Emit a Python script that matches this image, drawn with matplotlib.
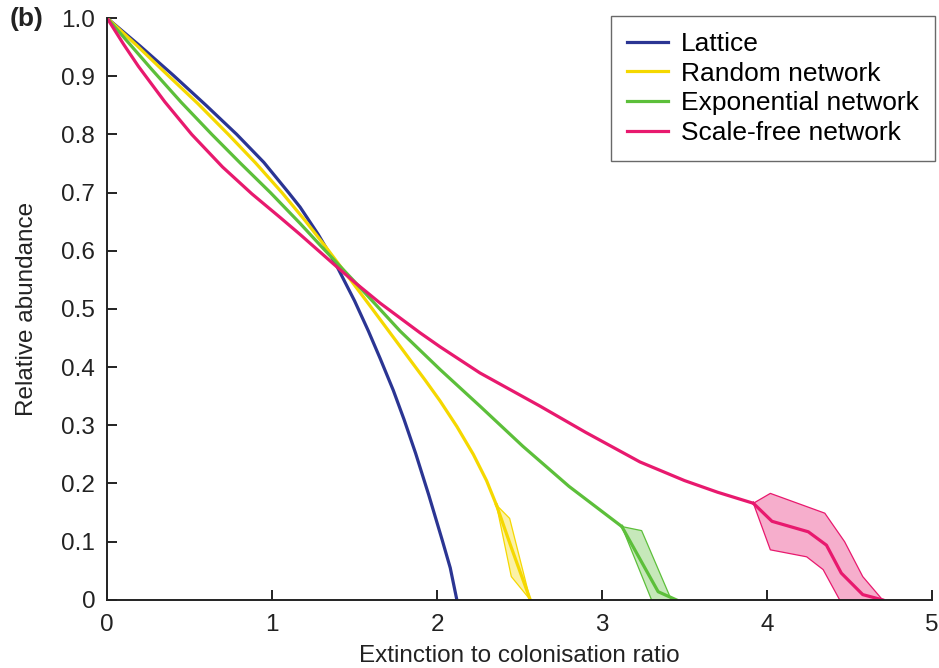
import matplotlib
matplotlib.use('Agg')
import matplotlib.pyplot as plt

plt.rcParams['font.family'] = ['Liberation Sans', 'DejaVu Sans']

# main curves (extinction/colonisation ratio vs relative abundance)
lattice_x = [0, 0.2, 0.4, 0.6, 0.786, 0.95, 1.1, 1.17, 1.28, 1.39, 1.5, 1.584, 1.655, 1.735, 1.8, 1.87, 1.95, 2.03, 2.08, 2.12]
lattice_y = [1.0, 0.952, 0.902, 0.85, 0.8, 0.752, 0.70, 0.675, 0.628, 0.575, 0.514, 0.462, 0.415, 0.36, 0.31, 0.252, 0.18, 0.104, 0.055, 0.0]

random_x = [0, 0.18, 0.36, 0.55, 0.735, 0.9, 1.06, 1.2, 1.33, 1.46, 1.6, 1.715, 1.83, 1.927, 2.018, 2.12, 2.22, 2.3, 2.36]
random_y = [1.0, 0.953, 0.904, 0.853, 0.8, 0.751, 0.70, 0.652, 0.605, 0.556, 0.503, 0.459, 0.415, 0.378, 0.342, 0.298, 0.25, 0.205, 0.163]

expo_x = [0, 0.27, 0.45, 0.635, 0.81, 0.99, 1.17, 1.3, 1.5, 1.776, 2.018, 2.26, 2.52, 2.8, 3.12]
expo_y = [1.0, 0.912, 0.855, 0.8, 0.75, 0.70, 0.647, 0.607, 0.547, 0.462, 0.396, 0.333, 0.264, 0.195, 0.126]

sf_x = [0, 0.1, 0.19, 0.35, 0.513, 0.7, 0.877, 1.05, 1.17, 1.39, 1.5, 1.655, 1.897, 2.018, 2.26, 2.624, 2.9, 3.23, 3.5, 3.7, 3.917]
sf_y = [1.0, 0.955, 0.917, 0.856, 0.8, 0.744, 0.698, 0.657, 0.628, 0.573, 0.546, 0.51, 0.459, 0.435, 0.39, 0.333, 0.288, 0.237, 0.205, 0.185, 0.166]

# tails with uncertainty bands
random_tail_x = [2.36, 2.45, 2.565]
random_tail_y = [0.163, 0.09, 0.0]
random_up_x = [2.36, 2.44, 2.565]
random_up_y = [0.163, 0.14, 0.0]
random_lo_x = [2.36, 2.45, 2.565]
random_lo_y = [0.163, 0.04, 0.0]

expo_tail_x = [3.12, 3.34, 3.45]
expo_tail_y = [0.126, 0.014, 0.0]
expo_up_x = [3.12, 3.24, 3.42, 3.45]
expo_up_y = [0.126, 0.119, 0.0, 0.0]
expo_lo_x = [3.12, 3.30, 3.45]
expo_lo_y = [0.126, 0.0, 0.0]

sf_tail_x = [3.917, 4.03, 4.25, 4.36, 4.45, 4.58, 4.70]
sf_tail_y = [0.166, 0.135, 0.117, 0.094, 0.046, 0.009, 0.0]
sf_up_x = [3.917, 4.02, 4.35, 4.47, 4.58, 4.70]
sf_up_y = [0.166, 0.183, 0.149, 0.10, 0.04, 0.0]
sf_lo_x = [3.917, 4.02, 4.24, 4.34, 4.44, 4.70]
sf_lo_y = [0.166, 0.086, 0.074, 0.052, 0.0, 0.0]

labels = ['Lattice', 'Random network', 'Exponential network', 'Scale-free network']
colors = ['#2b3593', '#f5d800', '#5cbf3a', '#e8196e']

fig = plt.figure(figsize=(9.39, 6.68), dpi=100)
ax = fig.add_axes([0.114, 0.102, 0.8786, 0.871])

lw = 2.3
ax.plot(lattice_x, lattice_y, color=colors[0], lw=lw, label=labels[0], solid_joinstyle='round')
ax.plot(random_x, random_y, color=colors[1], lw=lw, label=labels[1], solid_joinstyle='round')
ax.plot(expo_x, expo_y, color=colors[2], lw=lw, label=labels[2], solid_joinstyle='round')
ax.plot(sf_x, sf_y, color=colors[3], lw=lw, label=labels[3], solid_joinstyle='round')

bands = [
    (random_up_x, random_up_y, random_lo_x, random_lo_y, random_tail_x, random_tail_y, colors[1]),
    (expo_up_x, expo_up_y, expo_lo_x, expo_lo_y, expo_tail_x, expo_tail_y, colors[2]),
    (sf_up_x, sf_up_y, sf_lo_x, sf_lo_y, sf_tail_x, sf_tail_y, colors[3]),
]
for ux, uy, lx, ly, tx, ty, c in bands:
    px = list(ux) + list(lx[::-1])
    py = list(uy) + list(ly[::-1])
    ax.fill(px, py, facecolor=c, alpha=0.35, edgecolor='none')
    ax.plot(ux, uy, color=c, lw=0.9)
    ax.plot(lx, ly, color=c, lw=0.9)
    ax.plot(tx, ty, color=c, lw=lw, solid_joinstyle='round')

ax.set_xlim(0, 5)
ax.set_ylim(0, 1.0)
ax.set_xticks([0, 1, 2, 3, 4, 5])
ax.set_xticklabels(['0', '1', '2', '3', '4', '5'])
yt = [0, 0.1, 0.2, 0.3, 0.4, 0.5, 0.6, 0.7, 0.8, 0.9, 1.0]
ax.set_yticks(yt)
ax.set_yticklabels(['0'] + [f'{v:.1f}' for v in yt[1:]])
ax.tick_params(direction='in', length=7, width=1.4, labelsize=17.5, colors='#222222')
ax.tick_params(axis='y', pad=8.5)
ax.tick_params(axis='x', pad=10)
for s in ['top', 'right']:
    ax.spines[s].set_visible(False)
for s in ['left', 'bottom']:
    ax.spines[s].set_linewidth(1.4)
    ax.spines[s].set_color('#222222')

ax.set_xlabel('Extinction to colonisation ratio', fontsize=17.5, color='#222222', labelpad=7)
ax.set_ylabel('Relative abundance', fontsize=17.5, color='#222222', labelpad=17)

fig.text(0.010, 0.972, '(b)', fontsize=19, fontweight='bold', va='center', color='#222222')

leg = ax.legend(loc='upper right', bbox_to_anchor=(0.9957, 0.976), bbox_transform=fig.transFigure,
                borderaxespad=0, fontsize=19, fancybox=False, handlelength=1.55,
                handletextpad=0.5, labelspacing=0.22, borderpad=0.6)
leg.get_frame().set_edgecolor('#444444')
leg.get_frame().set_linewidth(1.0)

fig.savefig('out.png', dpi=100)
